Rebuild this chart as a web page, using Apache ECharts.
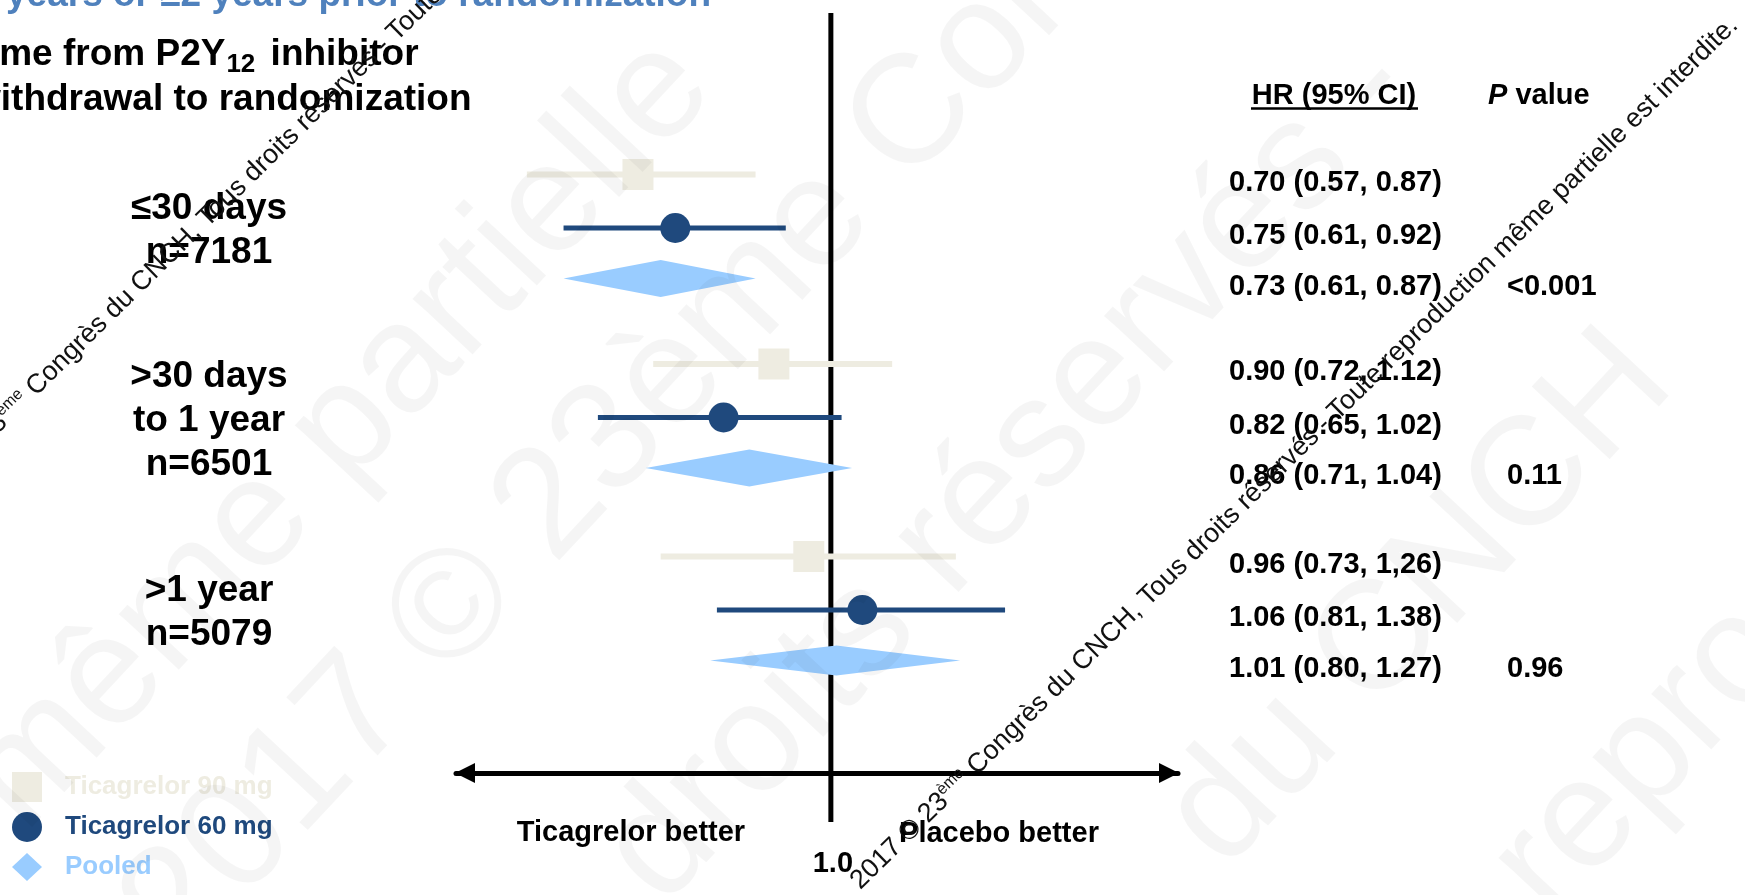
<!DOCTYPE html>
<html><head><meta charset="utf-8">
<script src="https://cdn.jsdelivr.net/npm/echarts@6/dist/echarts.min.js"></script>
<style>html,body{margin:0;padding:0;background:#fff}#c{width:1745px;height:895px}</style>
</head><body><div id="c"></div>
<script>
// ---------------- data ----------------
const groupLabels = ['≤30 days\nn=7181', '>30 days\nto 1 year\nn=6501', '>1 year\nn=5079'];
const seriesNames = ['Ticagrelor 90 mg', 'Ticagrelor 60 mg', 'Pooled'];
const hr90 = [0.70, 0.90, 0.96];
const lo90 = [0.57, 0.72, 0.73];
const hi90 = [0.87, 1.12, 1.26];
const hr60 = [0.75, 0.82, 1.06];
const lo60 = [0.61, 0.65, 0.81];
const hi60 = [0.92, 1.02, 1.38];
const hrPooled = [0.73, 0.86, 1.01];
const loPooled = [0.61, 0.71, 0.80];
const hiPooled = [0.87, 1.04, 1.27];
const ciText = [
  ['0.70 (0.57, 0.87)', '0.75 (0.61, 0.92)', '0.73 (0.61, 0.87)'],
  ['0.90 (0.72, 1.12)', '0.82 (0.65, 1.02)', '0.86 (0.71, 1.04)'],
  ['0.96 (0.73, 1,26)', '1.06 (0.81, 1.38)', '1.01 (0.80, 1.27)']
];
const pValues = ['<0.001', '0.11', '0.96'];
const refHR = 1.0;
const refLabel = '1.0';

// ---------------- layout / style ----------------
const FONT = '"Liberation Sans", Arial, Helvetica, sans-serif';
const X_MIN = 0.5, X_MAX = 1.9;
const GRID = {left: 456, top: 13, width: 722, height: 760};
const Y_MAX = 760;
const GROUP_TOP = [161.5, 351, 543.5];
const ROW_STEP = [0, 53.5, 104];
const REF_SPAN = [0, 809];
const DIAMOND_H = [37, 37, 30];
const COL = {t90: '#EEECE1', t60: '#1F497D', pooled: '#99CCFF', title: '#4F81BD'};
function rowPos(g, r) { return GROUP_TOP[g] + ROW_STEP[r]; }

function ciSeries(name, rowIdx, hr, lo, hi, color, kind) {
  return {
    type: 'custom', name: name, z: 5, silent: true,
    itemStyle: {color: color},
    encode: {x: [0, 1, 2], y: 3},
    data: hr.map((v, g) => [v, lo[g], hi[g], rowPos(g, rowIdx)]),
    renderItem: function (params, api) {
      const yv = api.value(3);
      const c = api.coord([api.value(0), yv]);
      const l = api.coord([api.value(1), yv]);
      const r = api.coord([api.value(2), yv]);
      if (kind === 'diamond') {
        const h = DIAMOND_H[params.dataIndex] / 2;
        return {type: 'polygon', shape: {points: [[l[0], c[1]], [c[0], c[1] - h], [r[0], c[1]], [c[0], c[1] + h]]},
                style: {fill: color}};
      }
      const children = [{type: 'line', shape: {x1: l[0], y1: c[1], x2: r[0], y2: c[1]},
                         style: {stroke: color, lineWidth: kind === 'square' ? 6 : 5}}];
      if (kind === 'square') {
        children.push({type: 'rect', shape: {x: c[0] - 15.5, y: c[1] - 15.5, width: 31, height: 31}, style: {fill: color}});
      } else {
        children.push({type: 'circle', shape: {cx: c[0], cy: c[1], r: 15}, style: {fill: color}});
      }
      return {type: 'group', children: children};
    }
  };
}

const chart = echarts.init(document.getElementById('c'), null, {renderer: 'canvas'});
chart.setOption({
  backgroundColor: '#ffffff',
  animation: false,
  grid: {left: GRID.left, top: GRID.top, width: GRID.width, height: GRID.height},
  xAxis: {
    type: 'log', logBase: 10, min: X_MIN, max: X_MAX,
    axisLine: {show: true, onZero: false, lineStyle: {color: '#000', width: 5},
               symbol: ['triangle', 'triangle'], symbolSize: [20, 20], symbolOffset: [9, -9]},
    axisTick: {show: false}, axisLabel: {show: false}, splitLine: {show: false},
    minorTick: {show: false}, minorSplitLine: {show: false}
  },
  yAxis: {type: 'value', min: 0, max: Y_MAX, inverse: true, show: false, splitLine: {show: false}},
  legend: {
    orient: 'vertical', left: 12, top: 772, padding: 0, itemGap: 10,
    itemWidth: 30, itemHeight: 30, selectedMode: false,
    formatter: name => '{g|}' + name,
    textStyle: {fontSize: 26, fontWeight: 'bold', fontFamily: FONT, lineHeight: 30,
                rich: {g: {width: 18, height: 10}}},
    data: [
      {name: seriesNames[0], icon: 'rect', textStyle: {color: COL.t90}},
      {name: seriesNames[1], icon: 'circle', textStyle: {color: COL.t60}},
      {name: seriesNames[2], icon: 'path://M15,0L30,14L15,28L0,14Z', textStyle: {color: COL.pooled}}
    ]
  },
  series: [
    {type: 'line', name: 'ref', data: [[refHR, REF_SPAN[0]], [refHR, REF_SPAN[1]]], symbol: 'none',
     clip: false, silent: true, z: 2, lineStyle: {color: '#000', width: 5}},
    ciSeries(seriesNames[0], 0, hr90, lo90, hi90, COL.t90, 'square'),
    ciSeries(seriesNames[1], 1, hr60, lo60, hi60, COL.t60, 'circle'),
    ciSeries(seriesNames[2], 2, hrPooled, loPooled, hiPooled, COL.pooled, 'diamond')
  ]
});

// ---------------- text layer ----------------
const py = v => chart.convertToPixel({yAxisIndex: 0}, v);
const px = v => chart.convertToPixel({xAxisIndex: 0}, v);
function txt(x, y, text, st, extra) {
  const s = Object.assign({text: text, fill: '#000', fontFamily: FONT, fontSize: 32, fontWeight: 'bold',
    align: 'left', verticalAlign: 'middle'}, st || {});
  return Object.assign({type: 'text', x: x, y: y, silent: true, z: 50, style: s}, extra || {});
}
const gfx = [];
// titles
gfx.push(txt(6, -4, 'years or ≥2 years prior to randomization', {fill: COL.title, fontSize: 37}));
gfx.push(txt(-33, 55, 'Time from P2Y{sub|12} inhibitor', {fontSize: 37, lineHeight: 46,
  rich: {sub: {fontSize: 26, fontWeight: 'bold', fontFamily: FONT, verticalAlign: 'bottom', lineHeight: 46, padding: [0, 5, 0, 1]}}}));
gfx.push(txt(-28, 100, 'withdrawal to randomization', {fontSize: 37}));
// group labels
groupLabels.forEach((lab, g) => {
  gfx.push(txt(209, py(rowPos(g, 1)) + 3, lab, {fontSize: 37, lineHeight: 44, align: 'center'}));
});
// table headers
gfx.push(txt(1334, 96, 'HR (95% CI)', {fontSize: 29, align: 'center'}));
gfx.push({type: 'line', silent: true, z: 50, shape: {x1: 1251, y1: 108.5, x2: 1418, y2: 108.5}, style: {stroke: '#000', lineWidth: 2.5}});
gfx.push(txt(1488, 96, '{i|P} value', {fontSize: 29,
  rich: {i: {fontSize: 29, fontWeight: 'bold', fontStyle: 'italic', fontFamily: FONT}}}));
// table rows
ciText.forEach((rows, g) => {
  rows.forEach((t, r) => {
    gfx.push(txt(1229, py(rowPos(g, r)) + 8, t, {fontSize: 29}));
  });
  gfx.push(txt(1507, py(rowPos(g, 2)) + 8, pValues[g], {fontSize: 29}));
});
// axis annotations
const x1 = px(refHR);
gfx.push(txt(x1 + 2, 864, refLabel, {fontSize: 29, align: 'center'}));
gfx.push(txt(631, 833, 'Ticagrelor better', {fontSize: 29, align: 'center'}));
gfx.push(txt(999, 834, 'Placebo better', {fontSize: 29, align: 'center'}));

// watermark (large, faint)
const BIG = 47 * Math.PI / 180;
[['même partielle', 340, 434, 'center'], ['2017 © 23ème Congrès', 713, 333, 'center'],
 ['droits réservés -', 1011, 473, 'center'], ['du CNCH', 1420, 600, 'center'],
 ['reproduction', 1520, 892, 'left']].forEach(w => {
  gfx.push(txt(w[1], w[2], w[0], {fontSize: 155, fontWeight: 'normal', fill: 'rgba(0,0,0,0.04)', align: w[3]},
    {rotation: BIG, z: 60}));
});
// watermark (small line)
const SM = 44.5 * Math.PI / 180;
const wm = '2017 © 23{sup|ème} Congrès du CNCH, Tous droits réservés - Toute reproduction même partielle est interdite.';
[[855, 885], [-86, 506]].forEach(p => {
  gfx.push(txt(p[0], p[1], wm, {fontSize: 27, fontWeight: 'normal', fill: '#111', lineHeight: 30,
    rich: {sup: {fontSize: 16, fontFamily: FONT, verticalAlign: 'top', lineHeight: 30, fill: '#111'}}},
    {rotation: SM, z: 70}));
});
chart.setOption({graphic: {elements: gfx}});
</script>
</body></html>
